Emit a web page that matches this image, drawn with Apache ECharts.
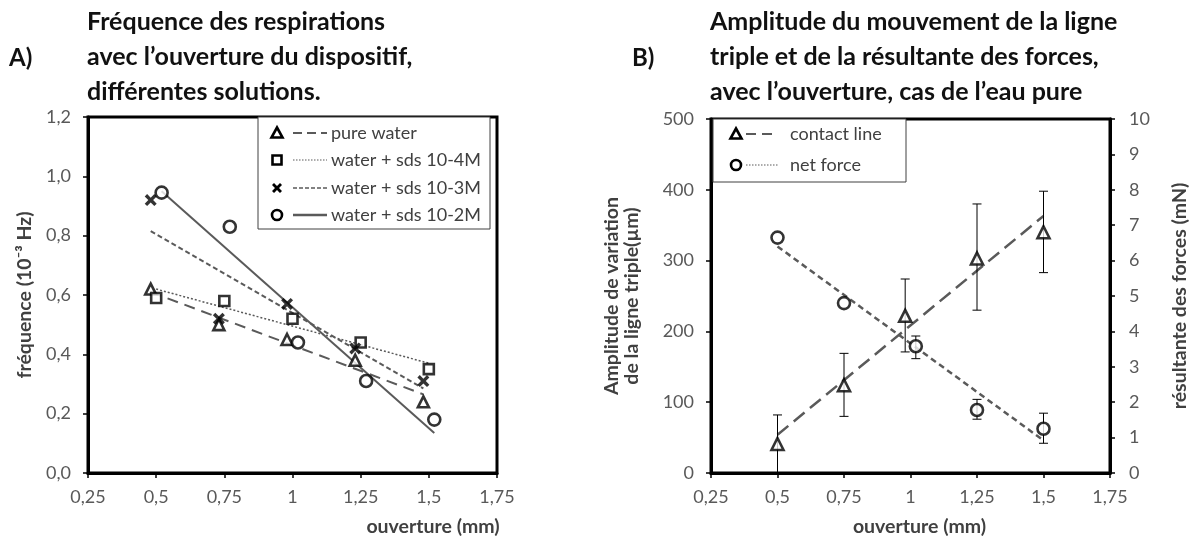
<!DOCTYPE html>
<html>
<head>
<meta charset="utf-8">
<script src="https://cdn.jsdelivr.net/npm/echarts@6/dist/echarts.min.js"></script>
<style>
  html, body { margin: 0; padding: 0; background: #fff; }
  #chart { width: 1200px; height: 542px; }
</style>
</head>
<body>
<div id="chart"></div>
<script>
// ---- A) fréquence vs ouverture ----
const xPure = [0.48, 0.73, 0.98, 1.23, 1.48]
const yPure = [0.62, 0.50, 0.45, 0.38, 0.24]
const x4M = [0.50, 0.75, 1.00, 1.25, 1.50]
const y4M = [0.59, 0.58, 0.52, 0.44, 0.35]
const x3M = [0.48, 0.73, 0.98, 1.23, 1.48]
const y3M = [0.92, 0.52, 0.57, 0.42, 0.31]
const x2M = [0.52, 0.77, 1.02, 1.27, 1.52]
const y2M = [0.945, 0.83, 0.44, 0.31, 0.18]
// trendline end points [x, y]
const trendPure = [[0.48, 0.61], [1.48, 0.265]]
const trend4M = [[0.50, 0.62], [1.50, 0.37]]
const trend3M = [[0.48, 0.815], [1.48, 0.285]]
const trend2M = [[0.52, 0.95], [1.52, 0.135]]

// ---- B) amplitude / net force vs ouverture ----
const xContact = [0.50, 0.75, 0.98, 1.25, 1.50]
const yContact = [41, 124, 222, 303, 340]
const contactLow = [0, 80, 171, 230, 283]
const contactHigh = [82, 169, 274, 380, 398]
const xForce = [0.50, 0.75, 1.02, 1.25, 1.50]
const yForce = [6.65, 4.80, 3.58, 1.78, 1.25]
const forceLow = [null, null, 3.23, 1.52, 0.84]
const forceHigh = [null, null, 3.87, 2.08, 1.69]
const trendContact = [[0.50, 54], [1.50, 363]]
const trendForce = [[0.50, 6.40], [1.50, 0.92]]

const xRange = [0.25, 1.75, 0.25] // min, max, interval

const FONT = 'Lato, "Open Sans", sans-serif'
const GREY = '#595959'
const LINE = '#5a5a5a'

const zip = (xs, ys) => xs.map((x, i) => [x, ys[i]])
const fmtComma = (v, dec) => {
  const s = dec == null ? String(+v.toFixed(2)) : v.toFixed(dec)
  return s.replace('.', ',')
}

const crossPath = 'path://M2,0 L5,3 L8,0 L10,2 L7,5 L10,8 L8,10 L5,7 L2,10 L0,8 L3,5 L0,2 Z'
const hollow = { color: '#fff', borderColor: '#000', borderWidth: 2.6 }

const nameStyle = { color: '#404040', fontFamily: FONT, fontSize: 19.5, fontWeight: 'bold', lineHeight: 20 }

const xAxisBase = (gridIndex) => ({
  type: 'value',
  gridIndex,
  min: xRange[0],
  max: xRange[1],
  interval: xRange[2],
  axisLine: { show: true, onZero: false, lineStyle: { color: '#000', width: 3 } },
  axisTick: { show: true, inside: false, length: 5, lineStyle: { color: '#000', width: 1.5 } },
  axisLabel: { color: GREY, fontFamily: FONT, fontSize: 18, margin: 15, formatter: v => fmtComma(v) },
  splitLine: { show: false },
  name: 'ouverture (mm)',
  nameLocation: 'middle',
  nameGap: 44
})

const yAxisBase = {
  type: 'value',
  axisLine: { show: true, onZero: false, lineStyle: { color: '#000', width: 3 } },
  axisTick: { show: true, inside: false, length: 5, lineStyle: { color: '#000', width: 1.5 } },
  splitLine: { show: false },
  nameLocation: 'middle',
  nameRotate: 90,
  nameTextStyle: nameStyle
}

const trendSeries = (name, data, xi, yi, type, width) => ({
  name,
  type: 'line',
  xAxisIndex: xi,
  yAxisIndex: yi,
  data,
  symbol: 'none',
  silent: true,
  z: 2,
  lineStyle: { color: LINE, width, type }
})

const errorSeries = (xs, lows, highs, xi, yi) => ({
  type: 'custom',
  xAxisIndex: xi,
  yAxisIndex: yi,
  silent: true,
  z: 3,
  data: xs.map((x, i) => [x, lows[i], highs[i]]).filter(d => d[1] != null),
  renderItem: (params, api) => {
    const lo = api.coord([api.value(0), api.value(1)])
    const hi = api.coord([api.value(0), api.value(2)])
    const cap = 4.5
    const st = { stroke: '#000', lineWidth: 1 }
    return {
      type: 'group',
      children: [
        { type: 'line', shape: { x1: lo[0], y1: lo[1], x2: hi[0], y2: hi[1] }, style: st },
        { type: 'line', shape: { x1: hi[0] - cap, y1: hi[1], x2: hi[0] + cap, y2: hi[1] }, style: st },
        { type: 'line', shape: { x1: lo[0] - cap, y1: lo[1], x2: lo[0] + cap, y2: lo[1] }, style: st }
      ]
    }
  }
})

// legend drawn as graphic (marker + line sample + text)
const txt = (x, y, text, size, weight, color) => ({
  type: 'text', x, y, z: 11,
  style: { text, fontFamily: FONT, fontSize: size, fontWeight: weight || 'normal', fill: color || '#000', textAlign: 'left', textVerticalAlign: 'middle' }
})
const seg = (x1, x2, y, dash, w) => ({
  type: 'line', z: 11, shape: { x1, y1: y, x2, y2: y },
  style: { stroke: LINE, lineWidth: w, lineDash: dash }
})
const iconStyle = { fill: '#fff', stroke: '#000', lineWidth: 2.6 }
const triIcon = (cx, cy) => ({ type: 'polygon', z: 11, shape: { points: [[cx, cy - 5.5], [cx + 5.5, cy + 4.5], [cx - 5.5, cy + 4.5]] }, style: iconStyle })
const sqIcon = (cx, cy) => ({ type: 'rect', z: 11, shape: { x: cx - 4.5, y: cy - 4.5, width: 9, height: 9 }, style: iconStyle })
const circIcon = (cx, cy) => ({ type: 'circle', z: 11, shape: { cx, cy, r: 5 }, style: iconStyle })
const crossIcon = (cx, cy) => ({
  type: 'polygon', z: 11,
  shape: { points: [[2, 0], [5, 3], [8, 0], [10, 2], [7, 5], [10, 8], [8, 10], [5, 7], [2, 10], [0, 8], [3, 5], [0, 2]].map(p => [cx - 5 + p[0], cy - 5 + p[1]]) },
  style: { fill: '#000' }
})

const legendA = ['pure water', 'water + sds 10-4M', 'water + sds 10-3M', 'water + sds 10-2M']
const legendB = ['contact line', 'net force']
const LEG = '#404040'

const chart = echarts.init(document.getElementById('chart'))

const option = {
  animation: false,
  backgroundColor: '#fff',
  grid: [
    { left: 88, top: 117, width: 409, height: 357, show: true, borderColor: '#000', borderWidth: 3, backgroundColor: 'transparent' },
    { left: 711, top: 119, width: 399, height: 356, show: true, borderColor: '#000', borderWidth: 3, backgroundColor: 'transparent' }
  ],
  xAxis: [
    Object.assign(xAxisBase(0), { nameTextStyle: Object.assign({}, nameStyle, { padding: [0, 0, 0, 281] }) }),
    Object.assign(xAxisBase(1), { nameTextStyle: Object.assign({}, nameStyle, { padding: [0, 0, 0, 18] }) })
  ],
  yAxis: [
    Object.assign({}, yAxisBase, {
      gridIndex: 0, min: 0, max: 1.2, interval: 0.2,
      name: 'fréquence (10⁻³ Hz)', nameGap: 53,
      axisLabel: { color: GREY, fontFamily: FONT, fontSize: 18, margin: 17, formatter: v => fmtComma(v, 1) }
    }),
    Object.assign({}, yAxisBase, {
      gridIndex: 1, min: 0, max: 500, interval: 100,
      name: 'Amplitude de variation\nde la ligne triple(µm)', nameGap: 69,
      axisLabel: { color: GREY, fontFamily: FONT, fontSize: 18, margin: 17 }
    }),
    Object.assign({}, yAxisBase, {
      gridIndex: 1, position: 'right', min: 0, max: 10, interval: 1,
      name: 'résultante des forces (mN)', nameGap: 60,
      axisLabel: { color: GREY, fontFamily: FONT, fontSize: 18, margin: 19 }
    })
  ],
  series: [
    trendSeries('pure water', trendPure, 0, 0, [11, 7], 2),
    trendSeries('water + sds 10-4M', trend4M, 0, 0, [2, 2], 1.5),
    trendSeries('water + sds 10-3M', trend3M, 0, 0, [5, 3], 2),
    trendSeries('water + sds 10-2M', trend2M, 0, 0, 'solid', 2),
    { name: 'pure water', type: 'scatter', xAxisIndex: 0, yAxisIndex: 0, data: zip(xPure, yPure), symbol: 'triangle', symbolSize: 11, itemStyle: hollow, z: 5 },
    { name: 'water + sds 10-4M', type: 'scatter', xAxisIndex: 0, yAxisIndex: 0, data: zip(x4M, y4M), symbol: 'rect', symbolSize: 10, itemStyle: hollow, z: 5 },
    { name: 'water + sds 10-3M', type: 'scatter', xAxisIndex: 0, yAxisIndex: 0, data: zip(x3M, y3M), symbol: crossPath, symbolSize: 12, itemStyle: { color: '#000' }, z: 5 },
    { name: 'water + sds 10-2M', type: 'scatter', xAxisIndex: 0, yAxisIndex: 0, data: zip(x2M, y2M), symbol: 'circle', symbolSize: 12, itemStyle: hollow, z: 5 },

    trendSeries('contact line', trendContact, 1, 1, [14, 7], 2.5),
    trendSeries('net force', trendForce, 1, 2, [6, 4], 2.5),
    errorSeries(xContact, contactLow, contactHigh, 1, 1),
    errorSeries(xForce, forceLow, forceHigh, 1, 2),
    { name: 'contact line', type: 'scatter', xAxisIndex: 1, yAxisIndex: 1, data: zip(xContact, yContact), symbol: 'triangle', symbolSize: 12, itemStyle: hollow, z: 5 },
    { name: 'net force', type: 'scatter', xAxisIndex: 1, yAxisIndex: 2, data: zip(xForce, yForce), symbol: 'circle', symbolSize: 12, itemStyle: hollow, z: 5 }
  ],
  graphic: [
    // titles
    txt(9, 58, 'A)', 24, 'bold', '#111'),
    { type: 'text', x: 87, y: 4, style: { text: 'Fréquence des respirations\navec l’ouverture du dispositif,\ndifférentes solutions.', fontFamily: FONT, fontSize: 25, fontWeight: 'bold', lineHeight: 35, fill: '#111' } },
    txt(632, 58, 'B)', 24, 'bold', '#111'),
    { type: 'text', x: 710, y: 4, style: { text: 'Amplitude du mouvement de la ligne\ntriple et de la résultante des forces,\navec l’ouverture, cas de l’eau pure', fontFamily: FONT, fontSize: 25, fontWeight: 'bold', lineHeight: 35, fill: '#111' } },

    // legend A
    { type: 'rect', z: 10, shape: { x: 258, y: 117, width: 232, height: 112 }, style: { fill: '#fff', stroke: LEG, lineWidth: 1 } },
    triIcon(277, 133), seg(293, 327, 133, [9, 5], 2), txt(331, 133, legendA[0], 18, 'normal', LEG),
    sqIcon(277, 160), seg(293, 327, 160, [1.5, 1.5], 1.2), txt(331, 160, legendA[1], 18, 'normal', LEG),
    crossIcon(277, 188), seg(293, 327, 188, [4, 2], 1.5), txt(331, 188, legendA[2], 18, 'normal', LEG),
    circIcon(277, 215), seg(293, 327, 215, null, 2.5), txt(331, 215, legendA[3], 18, 'normal', LEG),

    // legend B
    { type: 'rect', z: 10, shape: { x: 713, y: 119, width: 193, height: 63 }, style: { fill: '#fff', stroke: LEG, lineWidth: 1 } },
    triIcon(736, 134), seg(746, 778, 134, [10, 6], 2), txt(790, 134, legendB[0], 18, 'normal', LEG),
    circIcon(736, 165), seg(746, 778, 165, [1.5, 1.5], 1.2), txt(790, 165, legendB[1], 18, 'normal', LEG)
  ]
}

chart.setOption(option)
</script>
</body>
</html>
